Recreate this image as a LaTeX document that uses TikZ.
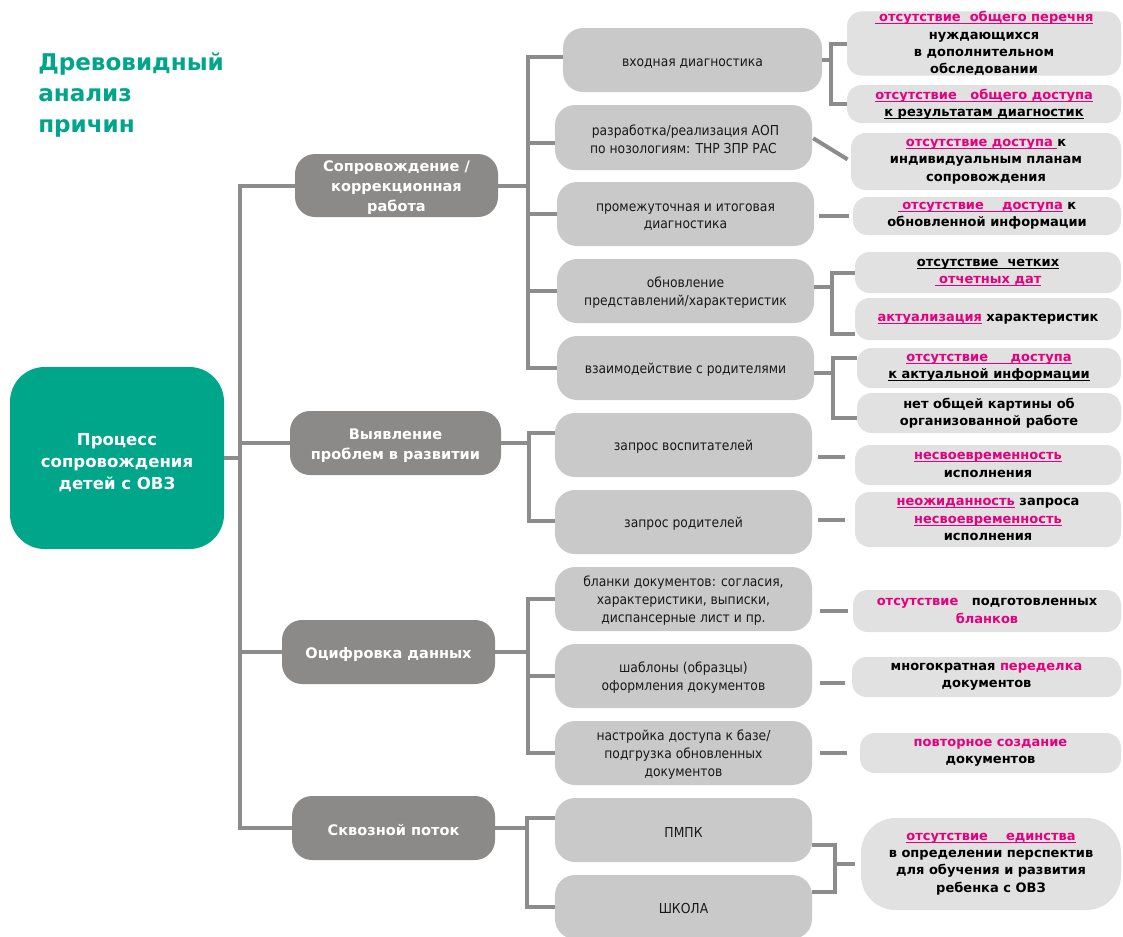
\documentclass[tikz,border=0pt]{standalone}
\usepackage{fontspec}
\setmainfont{DejaVu Sans}
\IfFontExistsTF{DejaVu Sans Condensed}{\newfontfamily\condfont{DejaVu Sans Condensed}}{\newfontfamily\condfont{PT Sans}}
\usetikzlibrary{calc}
\definecolor{cTeal}{HTML}{00A68A}
\definecolor{cDark}{HTML}{8B8A88}
\definecolor{cMid}{HTML}{C9C9C9}
\definecolor{cLight}{HTML}{E1E1E1}
\definecolor{cLine}{HTML}{8C8C8C}
\definecolor{cPink}{HTML}{E5007D}
\newcommand\ulx[1]{\setbox0=\hbox{#1}\leavevmode\rlap{\rule[-1.9pt]{\wd0}{0.8pt}}\box0}
\newcommand\pnk[1]{{\color{cPink}#1}}
\newcommand\tsa{\rule{0pt}{10.5pt}}
\newcommand\tsb{\rule{0pt}{11.5pt}}
\newcommand\tsc{\rule{0pt}{15.5pt}}
\begin{document}
\begin{tikzpicture}[x=0.75pt,y=-0.75pt,
  conn/.style={draw=cLine, line width=3pt},
  sz/.style 2 args={minimum width=#1*0.75pt, minimum height=#2*0.75pt},
  rbox/.style={fill=cLight, rounded corners=11pt, inner sep=0pt, outer sep=0pt, align=center,
    font=\bfseries\fontsize{9.75}{13}\selectfont, text=black},
  midbox/.style={fill=cMid, rounded corners=15pt, inner sep=0pt, outer sep=0pt, align=center,
    font=\condfont\fontsize{10.3}{13.2}\selectfont, text=black!90},
  darkbox/.style={fill=cDark, rounded corners=15pt, inner sep=0pt, outer sep=0pt, align=center,
    font=\bfseries\fontsize{10.9}{15}\selectfont, text=white},
  rootbox/.style={fill=cTeal, rounded corners=26pt, inner sep=0pt, outer sep=0pt, align=center,
    font=\bfseries\fontsize{12.4}{16.5}\selectfont, text=white}]
\fill[white] (0,0) rectangle (1123,936);
\useasboundingbox (0,0) rectangle (1123,936);

% title
\node[anchor=north west, inner sep=0pt, align=left, text=cTeal,
  font=\bfseries\fontsize{17.3}{23.25}\selectfont] (title) at (38,53) {Древовидный\\анализ\\причин};

% root and level 1
\node[rootbox, sz={214}{182}] (root) at (117,458) {\tsc Процесс\\сопровождения\\детей с ОВЗ};
\node[darkbox, sz={203}{63}] (l1a) at (396.5,185.5) {\tsb Сопровождение /\\коррекционная\\работа};
\node[darkbox, sz={211}{64}] (l1b) at (395.5,443) {\tsb Выявление\\проблем в развитии};
\node[darkbox, sz={213}{64}] (l1c) at (388.5,652) {\tsb Оцифровка данных};
\node[darkbox, sz={203}{64}] (l1d) at (393.5,828) {\tsb Сквозной поток};

% level 2
\node[midbox, sz={259}{64}] (l2a) at (692.5,60) {\tsa входная диагностика};
\node[midbox, sz={257}{65}] (l2b) at (683.5,137.5) {\tsa\ разработка/реализация АОП\\по нозологиям: ТНР ЗПР РАС};
\node[midbox, sz={257}{64}] (l2c) at (685.5,214) {\tsa промежуточная и итоговая\\диагностика};
\node[midbox, sz={257}{64}] (l2d) at (685.5,291) {\tsa обновление\\представлений/характеристик};
\node[midbox, sz={257}{64}] (l2e) at (685.5,368) {\tsa взаимодействие с родителями};
\node[midbox, sz={257}{64}] (l2f) at (683.5,445) {\tsa запрос воспитателей};
\node[midbox, sz={257}{64}] (l2g) at (683.5,522) {\tsa запрос родителей};
\node[midbox, sz={257}{64}] (l2h) at (683.5,599) {\tsa бланки документов: согласия,\\характеристики, выписки,\\диспансерные лист и пр.};
\node[midbox, sz={257}{64}] (l2i) at (683.5,676) {\tsa шаблоны (образцы)\\оформления документов};
\node[midbox, sz={257}{64}] (l2j) at (683.5,753) {\tsa настройка доступа к базе/\\подгрузка обновленных\\документов};
\node[midbox, sz={257}{64}] (l2k) at (683.5,830) {\tsa ПМПК};
\node[midbox, sz={257}{64}] (l2l) at (683.5,907) {\tsa ШКОЛА};

% level 3
\node[rbox, sz={274}{63}] (r1) at (984,43.5) {\pnk{\ulx{\ отсутствие\ \ общего перечня}}\\нуждающихся\\в дополнительном\\обследовании};
\node[rbox, sz={274}{38}] (r2) at (984,104) {\pnk{\ulx{отсутствие\ \ \ общего доступа}}\\\ulx{к результатам диагностик}};
\node[rbox, sz={270}{57}] (r3) at (986,161.5) {\pnk{\ulx{отсутствие доступа\ }}к\\индивидуальным планам\\сопровождения};
\node[rbox, sz={268}{38}] (r4) at (987,216) {\pnk{\ulx{\ отсутствие\ \ \ \ доступа}} к\\обновленной информации};
\node[rbox, sz={266}{41}] (r5) at (988,272.5) {\ulx{отсутствие\ \ четких}\\\pnk{\ulx{\ отчетных дат}}};
\node[rbox, sz={266}{42}] (r6) at (988,319) {\pnk{\ulx{актуализация}} характеристик};
\node[rbox, sz={264}{40}] (r7) at (989,368) {\pnk{\ulx{отсутствие\ \ \ \ \ доступа}}\\\ulx{к актуальной информации}};
\node[rbox, sz={264}{40}] (r8) at (989,413) {нет общей картины об\\организованной работе};
\node[rbox, sz={266}{40}] (r9) at (988,465) {\pnk{\ulx{несвоевременность}}\\исполнения};
\node[rbox, sz={266}{55}] (r10) at (988,519.5) {\pnk{\ulx{неожиданность}} запроса\\\pnk{\ulx{несвоевременность}}\\исполнения};
\node[rbox, sz={268}{42}] (r11) at (987,611) {\pnk{отсутствие}\ \ \ подготовленных\\\pnk{бланков}};
\node[rbox, sz={269}{40}] (r12) at (986.5,677) {многократная \pnk{переделка}\\документов};
\node[rbox, sz={261}{40}] (r13) at (990.5,753) {\pnk{повторное создание}\\документов};
\node[rbox, rounded corners=26pt, sz={260}{92}] (r14) at (991,864) {\pnk{\ulx{отсутствие\ \ \ \ единства}}\\в определении перспектив\\для обучения и развития\\ребенка с ОВЗ};

% spine coordinates
\coordinate (m) at (240,0);
\coordinate (s1) at (528,0);
\coordinate (s2) at (529,0);
\coordinate (s3) at (528,0);
\coordinate (s4) at (527,0);
\coordinate (b1) at (831,0);
\coordinate (b4) at (832,0);
\coordinate (b5) at (833,0);
\coordinate (b12) at (835,0);

% root to level 1
\draw[conn] (root.east) -- (root.east -| m);
\draw[conn] (l1a.west) -- (l1a.west -| m) -- (l1d.west -| m) -- (l1d.west);
\draw[conn] (l1b.west) -- (l1b.west -| m);
\draw[conn] (l1c.west) -- (l1c.west -| m);

% level 1 to level 2
\draw[conn] (l1a.east) -- (l1a.east -| s1);
\draw[conn] ([yshift=2pt]l2a.west) -- ([yshift=2pt]l2a.west -| s1) -- (l2e.west -| s1) -- (l2e.west);
\draw[conn] ([yshift=-4pt]l2b.west) -- ([yshift=-4pt]l2b.west -| s1);
\draw[conn] (l2c.west) -- (l2c.west -| s1);
\draw[conn] (l2d.west) -- (l2d.west -| s1);

\draw[conn] (l1b.east) -- (l1b.east -| s2);
\draw[conn] ([yshift=9pt]l2f.west) -- ([yshift=9pt]l2f.west -| s2) -- ([yshift=1pt]l2g.west -| s2) -- ([yshift=1pt]l2g.west);

\draw[conn] (l1c.east) -- (l1c.east -| s3);
\draw[conn] (l2h.west) -- (l2h.west -| s3) -- (l2j.west -| s3) -- (l2j.west);
\draw[conn] (l2i.west) -- (l2i.west -| s3);

\draw[conn] (l1d.east) -- (l1d.east -| s4);
\draw[conn] ([yshift=9pt]l2k.west) -- ([yshift=9pt]l2k.west -| s4) -- (l2l.west -| s4) -- (l2l.west);

% level 2 to level 3
\draw[conn] (l2a.east) -- (l2a.east -| b1);
\draw[conn] (r1.west) -- (r1.west -| b1) -- (r2.west -| b1) -- (r2.west);
\draw[conn, shorten <=1pt, shorten >=3pt] (l2b.east) -- (r3.west);
\draw[conn, shorten <=4pt, shorten >=3pt] (r4.west -| l2c.east) -- (r4.west);
\draw[conn] ([yshift=3pt]l2d.east) -- ([yshift=3pt]l2d.east -| b4);
\draw[conn] (r5.west) -- (r5.west -| b4) -- ([yshift=-11pt]r6.west -| b4) -- ([yshift=-11pt]r6.west);
\draw[conn] ([yshift=-3.75pt]l2e.east) -- ([yshift=-3.75pt]l2e.east -| b5);
\draw[conn] ([yshift=7.5pt]r7.west) -- ([yshift=7.5pt]r7.west -| b5) -- ([yshift=-3.75pt]r8.west -| b5) -- ([yshift=-3.75pt]r8.west);
\draw[conn, shorten <=4.5pt, shorten >=7.5pt] ([yshift=6pt]r9.west -| l2f.east) -- ([yshift=6pt]r9.west);
\draw[conn, shorten <=4.5pt, shorten >=7.5pt] (r10.west -| l2g.east) -- (r10.west);
\draw[conn, shorten <=6pt, shorten >=3.75pt] (r11.west -| l2h.east) -- (r11.west);
\draw[conn, shorten <=6pt, shorten >=5pt] ([yshift=-4.5pt]r12.west -| l2i.east) -- ([yshift=-4.5pt]r12.west);
\draw[conn, shorten <=6pt, shorten >=9.75pt] (r13.west -| l2j.east) -- (r13.west);
\draw[conn] ([yshift=-11.25pt]l2k.east) -- ([yshift=-11.25pt]l2k.east -| b12) -- ([yshift=11.25pt]l2l.east -| b12) -- ([yshift=11.25pt]l2l.east);
\draw[conn, shorten >=4.5pt] (r14.west -| b12) -- (r14.west);
\end{tikzpicture}
\end{document}
